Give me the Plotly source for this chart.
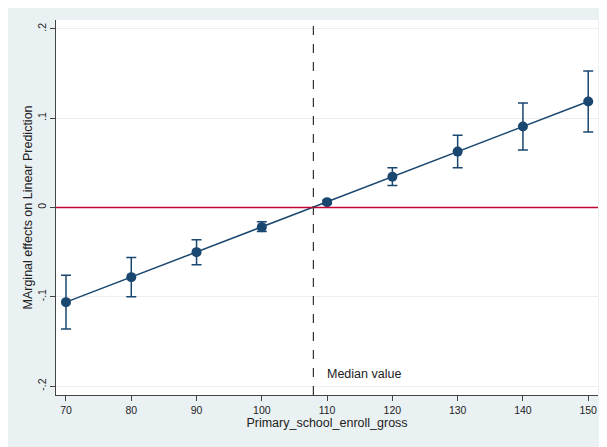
import plotly.graph_objects as go

x_vals = [70, 80, 90, 100, 110, 120, 130, 140, 150]
effects = [-0.106, -0.078, -0.050, -0.022, 0.006, 0.0345, 0.0626, 0.0907, 0.1188]
ci_upper = [-0.076, -0.056, -0.036, -0.016, 0.008, 0.0446, 0.081, 0.117, 0.153]
ci_lower = [-0.136, -0.100, -0.064, -0.027, 0.004, 0.0247, 0.0446, 0.0644, 0.0846]
median_value = 107.9
y_tickvals = [-0.2, -0.1, 0, 0.1, 0.2]
y_ticktext = ["-.2", "-.1", "0", ".1", ".2"]
x_tickvals = [70, 80, 90, 100, 110, 120, 130, 140, 150]

navy = "#1a476f"
fig = go.Figure()
fig.add_trace(go.Scatter(
    x=x_vals, y=effects, mode="lines+markers",
    line=dict(color=navy, width=1.5),
    marker=dict(color=navy, size=10),
    error_y=dict(type="data", symmetric=False,
                 array=[u - e for u, e in zip(ci_upper, effects)],
                 arrayminus=[e - l for l, e in zip(ci_lower, effects)],
                 color=navy, thickness=1.5, width=5),
    showlegend=False,
))
fig.add_shape(type="line", xref="paper", yref="y", x0=0, x1=1, y0=0, y1=0,
              line=dict(color="#c10534", width=1.5))
fig.add_shape(type="line", xref="x", yref="paper", x0=median_value, x1=median_value, y0=0, y1=1,
              line=dict(color="#333333", width=1.2, dash="dash"))
fig.add_annotation(x=median_value, y=-0.186, xref="x", yref="y", text="Median value",
                   showarrow=False, xanchor="left", xshift=12,
                   font=dict(size=12.5, color="#222222"))
fig.add_annotation(x=0, y=0.5, xref="paper", yref="paper",
                   text="MArginal effects on Linear Prediction", textangle=-90,
                   showarrow=False, xanchor="center", yanchor="middle", xshift=-29,
                   font=dict(size=12.5, color="#222222"))

fig.update_layout(
    width=599, height=439,
    margin=dict(l=48, r=9, t=12, b=52),
    paper_bgcolor="#eaf1f3", plot_bgcolor="white",
    font=dict(family="Liberation Sans, Arial, sans-serif", color="#222222"),
)
fig.update_xaxes(range=[68.47, 151.5], tickvals=x_tickvals, ticks="outside", ticklen=5,
                 tickcolor="#444", showline=True, linecolor="#444", linewidth=1,
                 showgrid=False, zeroline=False, tickfont=dict(size=10.5), automargin=False,
                 title=dict(text="Primary_school_enroll_gross", font=dict(size=12.5), standoff=2))
fig.update_yaxes(range=[-0.21, 0.21], tickvals=y_tickvals, ticktext=y_ticktext, ticks="outside",
                 ticklen=5, tickcolor="#444", showline=True, linecolor="#444", linewidth=1,
                 showgrid=True, gridcolor="#eeeeee", zeroline=False, tickangle=-90,
                 tickfont=dict(size=10.5), automargin=False)

fig.write_html("out.html")
